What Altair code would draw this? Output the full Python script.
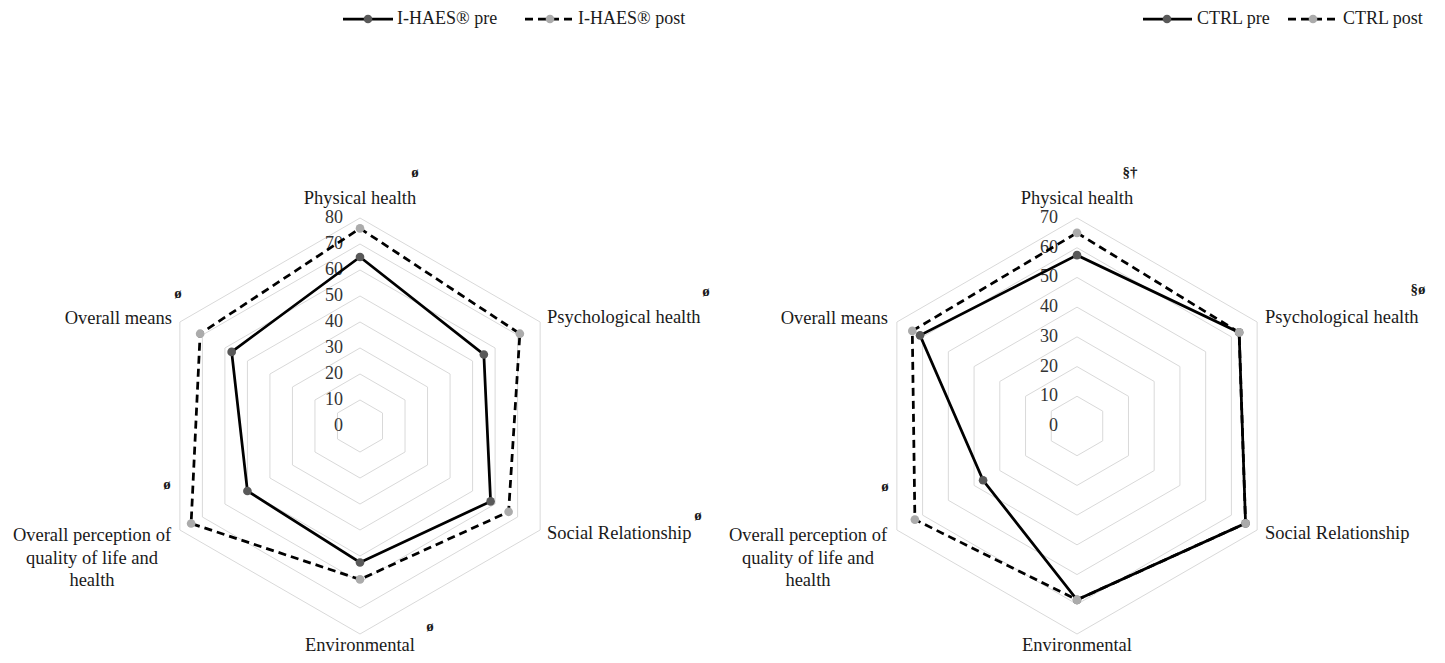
import altair as alt
import pandas as pd

# ---------------- data ----------------
CATEGORIES = ["Physical health", "Psychological health", "Social Relationship",
              "Environmental", "Overall perception of\nquality of life and\nhealth", "Overall means"]

IHAES_SERIES = ["I-HAES® pre", "I-HAES® post"]
IHAES_PRE = [65, 55, 58, 52.5, 50, 57]
IHAES_POST = [76, 71, 66, 59, 75, 71]
IHAES_TICKS = [0, 10, 20, 30, 40, 50, 60, 70, 80]
IHAES_NOTES = ["ø", "ø", "ø", "ø", "ø", "ø"]

CTRL_SERIES = ["CTRL pre", "CTRL post"]
CTRL_PRE = [57.5, 63, 65.5, 58.5, 36.5, 61]
CTRL_POST = [65, 63, 65.5, 58.5, 63, 64]
CTRL_TICKS = [0, 10, 20, 30, 40, 50, 60, 70]
CTRL_NOTES = ["§†", "§ø", "", "", "ø", ""]

# ---------------- layout ----------------
FONT = "Liberation Serif"
W, H = 704, 647
R = 208
CX, CY = 352, 418
SPACING = 13
LEFT_OX, RIGHT_OX, OY = 8, 8 + W + SPACING, 8
XDOM = [-CX / R, (W - CX) / R]
YDOM = [-(H - CY) / R, CY / R]
N = len(CATEGORIES)

PRE_MARK = "#595959"
POST_MARK = "#ababab"
GRID = "#d9d9d9"
TXT = "#1a1a1a"
DASH = [8, 5]
LW = 2.75
MSIZE = 75

X = alt.X("x:Q", scale=alt.Scale(domain=XDOM, nice=False, zero=False), axis=None)
Y = alt.Y("y:Q", scale=alt.Scale(domain=YDOM, nice=False, zero=False), axis=None)


def polar(chart, field, rmax):
    ang = f"PI/2 - datum.idx*2*PI/{N}"
    return chart.transform_calculate(
        x=f"datum.{field}/{rmax}*cos({ang})",
        y=f"datum.{field}/{rmax}*sin({ang})",
    )


def series_df(vals):
    rows = []
    for k in range(len(vals) + 1):
        i = k % len(vals)
        rows.append({"order": k, "idx": i, "value": vals[i]})
    return pd.DataFrame(rows)


def panel(pre, post, names, ticks, notes, ox, label_pos, note_pos, legend, tick_dx):
    rmax = ticks[-1]
    layers = []

    grid_rows = []
    for lv in ticks[1:]:
        for k in range(N + 1):
            grid_rows.append({"level": lv, "order": k, "idx": k % N})
    grid = polar(alt.Chart(pd.DataFrame(grid_rows)), "level", rmax).mark_line(
        color=GRID, strokeWidth=1).encode(x=X, y=Y, detail="level:N", order="order:Q")
    layers.append(grid)

    tick_df = pd.DataFrame({"level": ticks, "idx": [0] * len(ticks),
                            "lab": [str(t) for t in ticks]})
    tk = polar(alt.Chart(tick_df), "level", rmax).mark_text(
        align="right", baseline="middle", dx=tick_dx, font=FONT, fontSize=18,
        color="#333333").encode(x=X, y=Y, text="lab:N")
    layers.append(tk)

    for vals, dash, mcol in ((pre, None, PRE_MARK), (post, DASH, POST_MARK)):
        df = series_df(vals)
        kw = {"strokeDash": dash} if dash else {}
        ln = polar(alt.Chart(df), "value", rmax).mark_line(
            color="black", strokeWidth=LW, **kw).encode(x=X, y=Y, order="order:Q")
        pt = polar(alt.Chart(df[df["order"] < N]), "value", rmax).mark_circle(
            size=MSIZE, color=mcol, opacity=1).encode(x=X, y=Y)
        layers += [ln, pt]

    one = alt.Data(values=[{}])
    for cat, (px, py, al) in zip(CATEGORIES, label_pos):
        layers.append(alt.Chart(one).mark_text(
            align=al, baseline="middle", font=FONT, fontSize=18.5, color=TXT,
            lineBreak="\n", lineHeight=22.5).encode(
            x=alt.value(px - ox), y=alt.value(py - OY), text=alt.value(cat)))

    for note, (px, py) in zip(notes, note_pos):
        if not note:
            continue
        layers.append(alt.Chart(one).mark_text(
            align="center", baseline="middle", font=FONT, fontSize=15,
            fontWeight="bold", color=TXT).encode(
            x=alt.value(px - ox), y=alt.value(py - OY), text=alt.value(note)))

    ly = 19 - OY
    for name, (x1, x2, mx, tx), dash, mcol in zip(
            names, legend, (None, DASH), (PRE_MARK, POST_MARK)):
        kw = {"strokeDash": dash} if dash else {}
        layers.append(alt.Chart(one).mark_rule(color="black", strokeWidth=LW, **kw).encode(
            x=alt.value(x1 - ox), x2=alt.value(x2 - ox), y=alt.value(ly)))
        layers.append(alt.Chart(one).mark_circle(size=MSIZE, color=mcol, opacity=1).encode(
            x=alt.value(mx - ox), y=alt.value(ly)))
        layers.append(alt.Chart(one).mark_text(
            align="left", baseline="middle", font=FONT, fontSize=18, color=TXT).encode(
            x=alt.value(tx - ox), y=alt.value(ly), text=alt.value(name)))

    return alt.layer(*layers).properties(width=W, height=H)


left = panel(
    IHAES_PRE, IHAES_POST, IHAES_SERIES, IHAES_TICKS, IHAES_NOTES, LEFT_OX,
    label_pos=[(360, 198, "center"), (547, 317, "left"), (547, 533, "left"),
               (360, 645, "center"), (92, 535, "center"), (172, 318, "right")],
    note_pos=[(415, 172), (706, 291), (698, 515), (430, 626), (167, 484), (178, 293)],
    legend=[(343, 393, 368, 397), (525, 575, 550, 578)],
    tick_dx=-17,
)

right = panel(
    CTRL_PRE, CTRL_POST, CTRL_SERIES, CTRL_TICKS, CTRL_NOTES, RIGHT_OX,
    label_pos=[(1077, 198, "center"), (1265, 317, "left"), (1265, 533, "left"),
               (1077, 645, "center"), (808, 535, "center"), (888, 318, "right")],
    note_pos=[(1130, 172), (1418, 289), (0, 0), (0, 0), (885, 486), (0, 0)],
    legend=[(1143, 1192, 1167, 1197), (1288, 1340, 1313, 1343)],
    tick_dx=-19,
)

chart = alt.hconcat(left, right, spacing=SPACING).properties(
    padding=0, background="white"
).configure_view(stroke=None)

chart.save("out.html", embed_options={"renderer": "svg", "actions": False})
